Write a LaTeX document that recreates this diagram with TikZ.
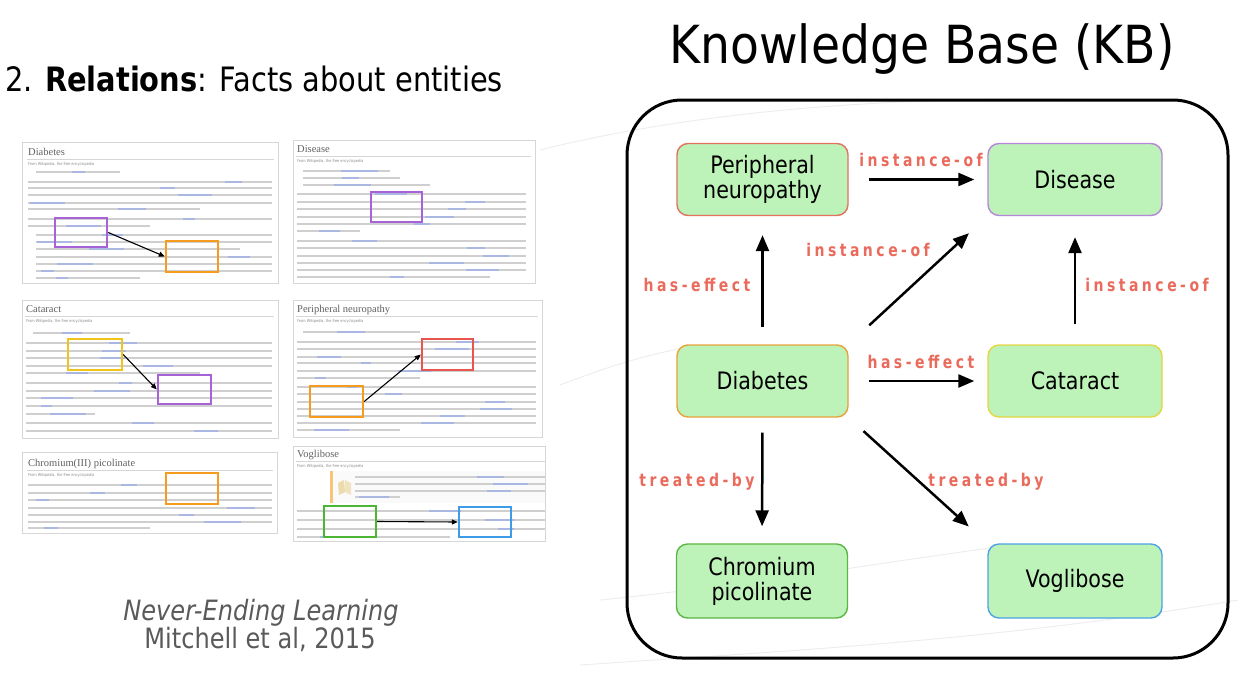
\documentclass[tikz,border=0pt]{standalone}
\usepackage{fontspec}
\setmainfont{DejaVu Sans}[FakeStretch=0.86]
\newfontfamily\kbfont{DejaVu Sans}[FakeStretch=0.9]
\newfontfamily\relfont{DejaVu Sans}[FakeStretch=0.8,LetterSpace=20]
\newfontfamily\wikiserif{Liberation Serif}
\usetikzlibrary{arrows.meta,calc,fit}

\definecolor{nodefill}{HTML}{BDF2B8}
\definecolor{relred}{HTML}{EA6A5C}
\definecolor{bRed}{HTML}{E2725E}
\definecolor{bPurple}{HTML}{B686D8}
\definecolor{bOrange}{HTML}{E8A23A}
\definecolor{bYellow}{HTML}{E5D642}
\definecolor{bGreen}{HTML}{5CB646}
\definecolor{bBlue}{HTML}{4DA3E4}
\definecolor{hPurple}{HTML}{A862D8}
\definecolor{hOrange}{HTML}{F59C1E}
\definecolor{hYellow}{HTML}{F0C419}
\definecolor{hRed}{HTML}{E8554E}
\definecolor{hGreen}{HTML}{4CB533}
\definecolor{hBlue}{HTML}{3E9BE8}
\definecolor{footgray}{HTML}{5A5A5A}
\definecolor{linkblue}{HTML}{A9B7E2}

% one page of an encyclopedia: title, rule and "From ..." line
\newcommand\wikihead[4]{%
  \node[wtitle] at (#1,#3) {#4};
  \draw[wrule] (#1-1,#3+4) -- (#2,#3+4);
  \node[wfrom] at (#1,#3+10) {From Wikipedia, the free encyclopedia};}
% rows of body text, given as y/right-end pairs, starting at #1
\newcommand\txtrows[2]{%
  \foreach \yy/\xe in {#2} {
    \draw[txt] (#1,\yy) -- (\xe,\yy);
    \pgfmathsetmacro\lnkx{#1+rnd*(\xe-#1-40)}
    \pgfmathsetmacro\lnkw{10+rnd*28}
    \draw[txtlink] (\lnkx,\yy) -- ({\lnkx+\lnkw},\yy);
  }}

\begin{document}
\begin{tikzpicture}[x=1pt,y=-1pt,
  kbnode/.style={rounded corners=11pt, fill=nodefill, line width=1.4pt,
    minimum width=171pt, minimum height=72pt, align=center, inner sep=0pt,
    font=\fontsize{24}{25}\selectfont},
  rel/.style={-{Triangle[length=16pt,width=13pt]}, line width=2.5pt},
  lbl/.style={text=relred, inner sep=0pt,
    font=\relfont\fontsize{17.5}{18}\selectfont\bfseries},
  wpanel/.style={draw=black!16, fill=white, line width=0.8pt},
  wtitle/.style={anchor=base west, inner sep=0pt, text=black!62,
    font=\wikiserif\fontsize{10.5}{11}\selectfont},
  wrule/.style={draw=black!16, line width=0.5pt},
  wfrom/.style={anchor=base west, inner sep=0pt, text=black!45,
    font=\fontsize{4}{4}\selectfont},
  txt/.style={draw=black!19, line width=1.9pt},
  txtlink/.style={draw=linkblue, line width=1.9pt},
  hl/.style={draw=#1, line width=2.4pt, inner sep=0pt},
  pa/.style={-{Triangle[length=6pt,width=5pt]}, line width=1.1pt},
  swoosh/.style={draw=black!7, line width=0.9pt}]

\useasboundingbox (0,0) rectangle (1238,680);
\fill[white] (0,0) rectangle (1238,680);
\pgfmathsetseed{4711}

% faint background strokes
\draw[swoosh] (540,150) .. controls (700,110) and (900,95) .. (1110,100);
\draw[swoosh] (560,385) .. controls (600,370) and (640,355) .. (700,345);
\draw[swoosh] (600,600) .. controls (750,585) and (900,560) .. (990,548);
\draw[swoosh] (580,665) .. controls (800,650) and (1000,640) .. (1238,600);

% headings
\node[anchor=base west, inner sep=0pt, font=\fontsize{33.6}{36}\selectfont] (head) at (5,91)
  {2. \textbf{Relations}: Facts about entities};
\node[anchor=base, inner sep=0pt, font=\kbfont\fontsize{52.5}{56}\selectfont] (kbtitle) at (922,63)
  {Knowledge Base (KB)};

% ---------- encyclopedia pages ----------
% Diabetes
\draw[wpanel] (22,142) rectangle (278,283);
\wikihead{28}{274}{155}{Diabetes}
\txtrows{36}{172/120}
\txtrows{28}{182/272,188/272,195/272,203/272,209/200,219/272,226/150}
\txtrows{36}{235/272,242/272,249/240,257/272,264/272,271/272,278/140}
\node[hl=hPurple, fit={(55,218) (107,247)}] (dbP) {};
\node[hl=hOrange, fit={(166,241) (218,272)}] (dbO) {};
\draw[pa] (dbP.east) -- (dbO.west);

% Disease
\draw[wpanel] (293,140) rectangle (535,283);
\wikihead{297}{531}{152}{Disease}
\txtrows{303}{171/390,178/400,185/430}
\txtrows{297}{194/526,202/526,209/526,217/526,224/526,231/360,241/526,248/526,256/526,263/526,270/526,277/490}
\node[hl=hPurple, fit={(371,192) (422,222)}] (dsP) {};

% Cataract
\draw[wpanel] (22,300) rectangle (278,438);
\wikihead{26}{274}{312}{Cataract}
\txtrows{33}{333/130}
\txtrows{26}{343/272,351/272,358/272,366/272,373/200,383/272,391/272,398/272,406/272,414/95,423/272,431/272}
\node[hl=hYellow, fit={(68,339) (122,370)}] (caY) {};
\node[hl=hPurple, fit={(158,375) (211,404)}] (caP) {};
\draw[pa] (caY.east) -- (caP.west);

% Peripheral neuropathy
\draw[wpanel] (293,300) rectangle (542,437);
\wikihead{297}{538}{312}{Peripheral neuropathy}
\txtrows{303}{332/420}
\txtrows{297}{342/536,349/536,357/536,363/536,371/536,378/420,387/536,394/536,402/536,409/536,416/536,423/536,430/400}
\node[hl=hRed, fit={(422,339) (473,370)}] (pnR) {};
\node[hl=hOrange, fit={(310,386) (363,417)}] (pnO) {};
\draw[pa] (pnO.east) -- (pnR.west);

% Chromium(III) picolinate
\draw[wpanel] (22,452) rectangle (277,533);
\wikihead{28}{273}{466}{Chromium(III) picolinate}
\txtrows{28}{485/272,493/272,500/272,508/272,515/272,522/272,528/150}
\node[hl=hOrange, fit={(166,473) (218,504)}] (chO) {};

% Voglibose
\draw[wpanel] (293,446) rectangle (545,541);
\wikihead{297}{545}{457}{Voglibose}
\fill[black!2] (330,471) rectangle (545,503);
\fill[hOrange!60] (330,471) rectangle (332.5,503);
\fill[yellow!25!brown!40] (338,483) -- (344,480) -- (345,492) -- (339,495) -- cycle;
\fill[yellow!25!brown!30] (345,480) -- (351,483) -- (351,495) -- (345,492) -- cycle;
\txtrows{355}{477/545,484/545,491/545,497/400}
\txtrows{297}{511/545,520/545,529/545,537/450}
\node[hl=hGreen, fit={(324,506) (376,537)}] (vgG) {};
\node[hl=hBlue, fit={(459,507) (511,537)}] (vgB) {};
\draw[pa] (vgG.east) -- (vgB.west);

% citation
\node[anchor=base, inner sep=0pt, text=footgray, font=\itshape\fontsize{28}{30}\selectfont] (nel) at (261,620) {Never-Ending Learning};
\node[anchor=base, inner sep=0pt, text=footgray, font=\fontsize{28}{30}\selectfont] (mit) at (260,648) {Mitchell et al, 2015};

% ---------- knowledge base ----------
\draw[line width=3pt, rounded corners=55pt] (627,100) rectangle (1228,658);

\node[kbnode, draw=bRed] (pn) at (762.5,179.5) {Peripheral\\neuropathy};
\node[kbnode, draw=bPurple, minimum width=174pt] (dis) at (1075,179.5) {Disease};
\node[kbnode, draw=bOrange] (dia) at (762.5,381) {Diabetes};
\node[kbnode, draw=bYellow, minimum width=174pt] (cat) at (1075,381) {Cataract};
\node[kbnode, draw=bGreen, minimum height=74pt] (chr) at (762,581) {Chromium\\picolinate};
\node[kbnode, draw=bBlue, minimum width=174pt, minimum height=74pt] (vog) at (1075,581) {Voglibose};

\draw[rel, shorten <=20pt, shorten >=13pt] (pn.east) -- (dis.west);
\draw[rel, shorten <=17pt, shorten >=19pt] (dia.north) -- (pn.south);
\draw[rel, shorten <=28pt, shorten >=25pt] (dia.north east) -- (dis.south west);
\draw[rel, shorten <=20pt, shorten >=21pt] (cat.north) -- (dis.south);
\draw[rel, shorten <=20pt, shorten >=13pt] (dia.east) -- (cat.west);
\draw[rel, shorten <=15pt, shorten >=17pt] (dia.south) -- (chr.north);
\draw[rel, shorten <=20pt, shorten >=25pt] (dia.south east) -- (vog.north west);

\node[lbl] (l1) at (921,160) {instance-of};
\node[lbl] (l2) at (697,285) {has-effect};
\node[lbl] (l3) at (868,250) {instance-of};
\node[lbl] (l4) at (1147,285) {instance-of};
\node[lbl] (l5) at (921,362) {has-effect};
\node[lbl] (l6) at (697,482) {treated-by};
\node[lbl] (l7) at (986,482) {treated-by};
\end{tikzpicture}
\end{document}
